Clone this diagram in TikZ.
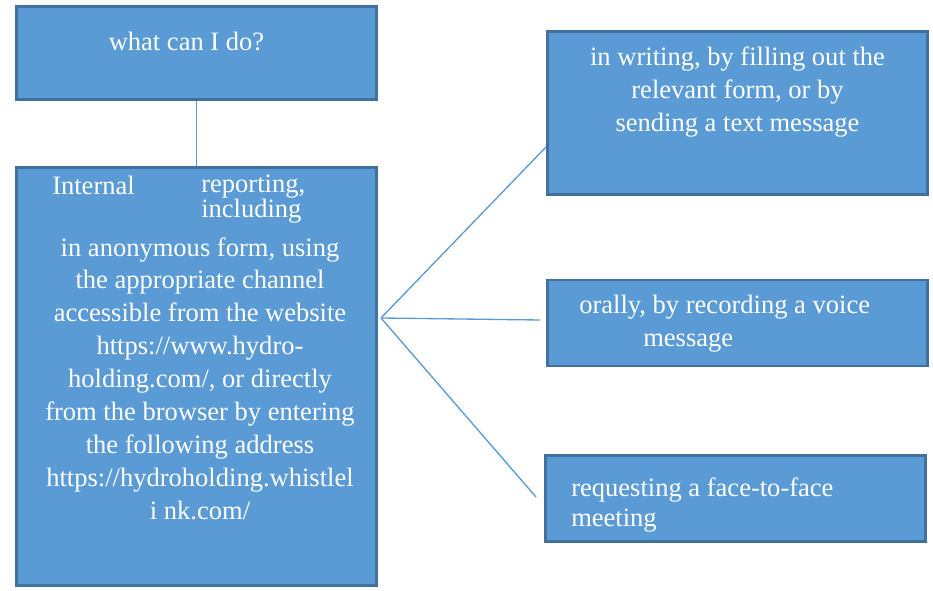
\documentclass[tikz,border=0pt]{standalone}
\usepackage{fontspec}
\setmainfont{Liberation Serif}
\usepackage{tikz}

\definecolor{boxfill}{HTML}{5B9BD5}
\definecolor{boxline}{HTML}{41719C}

\begin{document}
\begin{tikzpicture}[x=0.75pt,y=0.75pt,yscale=-1,xscale=1,
  box/.style={draw=boxline,fill=boxfill,line width=2.2pt,inner sep=0pt,rectangle},
  link/.style={draw=boxfill,line width=1pt},
  txt/.style={text=white,inner sep=0pt,font=\fontsize{19.9}{24.75}\selectfont}]
\useasboundingbox (0,0) rectangle (933,591);

%Shape: Rectangle [top]
\node[box,minimum width=360*0.75pt,minimum height=93*0.75pt] (ask) at (196.5,53) {};
%Shape: Rectangle [internal]
\node[box,minimum width=360*0.75pt,minimum height=418*0.75pt] (internal) at (196.5,376.5) {};
%Shape: Rectangle [writing]
\node[box,minimum width=380*0.75pt,minimum height=163*0.75pt] (writing) at (737.5,113) {};
%Shape: Rectangle [orally]
\node[box,minimum width=380*0.75pt,minimum height=86*0.75pt] (orally) at (737.5,323) {};
%Shape: Rectangle [meeting]
\node[box,minimum width=380*0.75pt,minimum height=86*0.75pt] (meeting) at (735.5,498.5) {};

%Straight Lines
\draw[link] (ask.south) -- (internal.north);
\coordinate (hub) at (381,318);
\coordinate (endA) at (546,147);
\coordinate (endB) at (540,320);
\coordinate (endC) at (536,497);
\draw[link] (hub) -- (endA);
\draw[link] (hub) -- (endB);
\draw[link] (hub) -- (endC);

% Text Node
\node[txt,anchor=base] (askT) at (186.5,51) {what can I do?};
% Text Node
\node[txt,anchor=base west] (intT) at (52,195) {Internal};
% Text Node
\node[txt,anchor=base west,align=left,font=\fontsize{19.9}{17.25}\selectfont] (repT) at (201,218) {reporting,\\including};
% Text Node
\node[txt,anchor=base,align=center] (mainT) at (200,520) {in anonymous form, using\\the appropriate channel\\accessible from the website\\https://www.hydro-\\holding.com/, or directly\\from the browser by entering\\the following address\\https://hydroholding.whistlel\\i nk.com/};
% Text Node
\node[txt,anchor=base,align=center] (writT) at (737.5,132) {in writing, by filling out the\\relevant form, or by\\sending a text message};
% Text Node
\node[txt,anchor=base west,align=left] (oralT) at (579,347) {orally, by recording a voice\\\hspace*{48pt}message};
% Text Node
\node[txt,anchor=base west,align=left,font=\fontsize{19.9}{22.5}\selectfont] (meetT) at (571,527) {requesting a face-to-face\\meeting};

\end{tikzpicture}
\end{document}
